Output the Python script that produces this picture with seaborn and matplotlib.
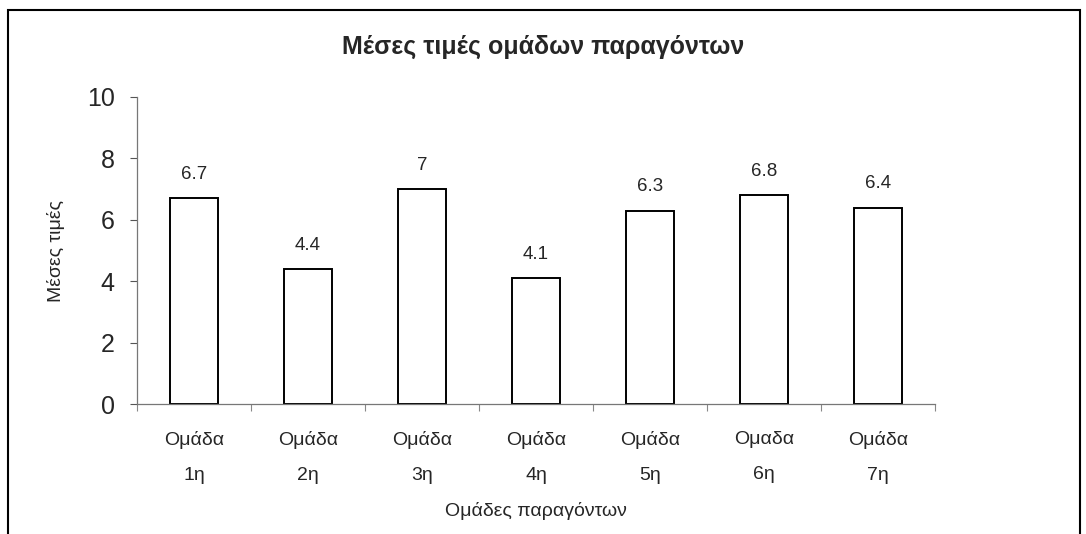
import matplotlib
matplotlib.use("Agg")
import matplotlib.pyplot as plt
import seaborn as sns
import pandas as pd
import numpy as np
from matplotlib.patches import Rectangle

categories = ["Ομάδα\n1η", "Ομάδα\n2η", "Ομάδα\n3η", "Ομάδα\n4η", "Ομάδα\n5η", "Ομαδα\n6η", "Ομάδα\n7η"]
values = [6.7, 4.4, 7, 4.1, 6.3, 6.8, 6.4]
value_labels = ["6.7", "4.4", "7", "4.1", "6.3", "6.8", "6.4"]

sns.set_style("white")
plt.rcParams['font.family'] = ['Liberation Sans', 'DejaVu Sans']

df = pd.DataFrame({"cat": categories, "val": values})

fig = plt.figure(figsize=(10.86, 5.34), dpi=100)
ax = fig.add_axes([137/1086, 1 - 404/534, (935-137)/1086, (404-97)/534])

sns.barplot(data=df, x="cat", y="val", ax=ax, color="white", edgecolor="black",
            linewidth=1.4, width=0.42, saturation=1)

ax.set_ylim(0, 10)
ax.set_xlim(-0.5, len(categories) - 0.5)
ax.set_yticks(np.arange(0, 11, 2))
ax.set_yticklabels([str(v) for v in range(0, 11, 2)], fontsize=18)
ax.tick_params(axis='y', direction='out', length=5, width=0.8, color='#555555', pad=11, left=True)
ax.set_xticks(range(len(categories)), categories, linespacing=2.4)
ax.tick_params(axis='x', which='major', length=0, pad=19.5, labelsize=14)
ax.set_xticks(np.arange(-0.5, len(categories) + 0.5, 1), minor=True)
ax.tick_params(axis='x', which='minor', direction='out', length=5, width=0.8, color='#888888', bottom=True)

for s in ["top", "right"]:
    ax.spines[s].set_visible(False)
ax.spines["left"].set_color("#777777")
ax.spines["bottom"].set_color("#777777")
ax.spines["left"].set_linewidth(0.9)
ax.spines["bottom"].set_linewidth(0.9)

for i, (v, t) in enumerate(zip(values, value_labels)):
    ax.annotate(t, (i, v), xytext=(0, 11), textcoords="offset points", ha="center",
                va="bottom", fontsize=13.5)

ax.set_xlabel("Ομάδες παραγόντων", fontsize=14, labelpad=13)
ax.set_ylabel("Μέσες τιμές", fontsize=14, labelpad=16)

fig.text(0.5, 1 - 47/534, "Μέσες τιμές ομάδων παραγόντων", ha="center", va="center",
         fontsize=18, fontweight="bold")

fig.patches.append(Rectangle((8/1086, -0.05), (1080-8)/1086, 1.05 - 10/534,
                             transform=fig.transFigure, fill=False, edgecolor="black",
                             linewidth=1.5))

fig.savefig("out.png", dpi=100, facecolor="white")
